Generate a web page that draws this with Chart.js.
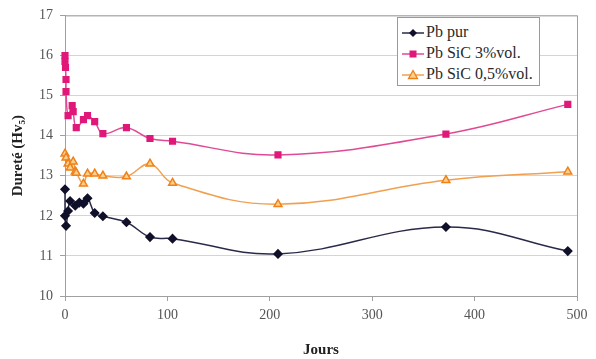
<!DOCTYPE html>
<html>
<head>
<meta charset="utf-8">
<script src="https://cdn.jsdelivr.net/npm/chart.js@4.4.1/dist/chart.umd.min.js"></script>
<style>
  html, body { margin: 0; padding: 0; background: #fff; }
  #wrap { position: relative; width: 596px; height: 359px; }
  #legend {
    position: absolute; left: 397px; top: 17px; width: 143px; height: 69px;
    box-sizing: border-box; border: 1px solid #9a9a9a; background: #fff;
    font-family: "Liberation Serif", serif; font-size: 16px; color: #2a2a2a;
    padding-top: 3px;
  }
  #legend div { height: 21px; line-height: 21px; white-space: nowrap; }
  #legend svg { vertical-align: middle; margin: 0 2px 0 4px; }
</style>
</head>
<body>
<div id="wrap">
  <canvas id="chart_durete" width="596" height="359"></canvas>
  <div id="legend"></div>
</div>
<script>
/* Dureté en fonction du temps (jours) */
const jours_pur = [0, 0, 1, 3, 5, 10, 14, 18, 22, 29, 37, 60, 83, 105, 208, 372, 491];
const dur_pur = [12.66, 12.0, 11.75, 12.12, 12.37, 12.25, 12.33, 12.3, 12.44, 12.07, 11.99, 11.84, 11.47, 11.43, 11.05, 11.72, 11.12];

const jours_sic3 = [0, 0, 0.5, 1, 1, 3, 7, 8, 11, 18, 22, 29, 37, 60, 83, 105, 208, 372, 491];
const dur_sic3 = [16.0, 15.85, 15.7, 15.4, 15.1, 14.5, 14.75, 14.6, 14.2, 14.4, 14.5, 14.35, 14.05, 14.2, 13.93, 13.86, 13.52, 14.04, 14.78];

const jours_sic05 = [0, 1, 3, 5, 8, 10, 11, 18, 22, 29, 37, 60, 83, 105, 208, 372, 491];
const dur_sic05 = [13.55, 13.45, 13.3, 13.2, 13.35, 13.1, 13.07, 12.8, 13.05, 13.05, 13.0, 12.98, 13.3, 12.82, 12.29, 12.89, 13.1];

const x_ticks = [0, 100, 200, 300, 400, 500];
const y_ticks = [10, 11, 12, 13, 14, 15, 16, 17];

const noms = ['Pb pur', 'Pb SiC 3%vol.', 'Pb SiC 0,5%vol.'];

function toPoints(xs, ys) {
    return xs.map((x, i) => ({x: x, y: ys[i]}));
}

// cadre autour de la zone de tracé
const cadre = {
    id: 'cadre',
    beforeDatasetsDraw(chart) {
        const a = chart.chartArea, c = chart.ctx;
        c.save();
        c.strokeStyle = '#a0a0a0';
        c.lineWidth = 1;
        c.strokeRect(a.left + 0.5, a.top + 0.5, a.right - a.left, a.bottom - a.top);
        c.restore();
    }
};

let ctx_durete = document.getElementById('chart_durete').getContext('2d');
let dureteChart = new Chart(ctx_durete, {
    type: 'line',
    data: {
        datasets: [{
            label: noms[0],
            data: toPoints(jours_pur, dur_pur),
            borderColor: '#2a2a48',
            backgroundColor: '#10102a',
            pointBorderColor: '#10102a',
            pointStyle: 'rectRot',
            pointRadius: 4,
            borderWidth: 1.5,
            tension: 0.4,
            clip: 8
        }, {
            label: noms[1],
            data: toPoints(jours_sic3, dur_sic3),
            borderColor: '#e04a95',
            backgroundColor: '#e0187a',
            pointBorderColor: '#e0187a',
            pointStyle: 'rect',
            pointRadius: 4,
            borderWidth: 1.5,
            tension: 0.4,
            clip: 8
        }, {
            label: noms[2],
            data: toPoints(jours_sic05, dur_sic05),
            borderColor: '#f0a050',
            backgroundColor: '#fbd08a',
            pointBorderColor: '#f08018',
            pointStyle: 'triangle',
            pointRadius: 4.5,
            pointBorderWidth: 1.5,
            borderWidth: 1.5,
            tension: 0.4,
            clip: 8
        }]
    },
    options: {
        responsive: false,
        animation: false,
        layout: { padding: { left: 0, right: 19, top: 12, bottom: 0 } },
        plugins: {
            legend: { display: false },
            tooltip: { enabled: false }
        },
        scales: {
            x: {
                type: 'linear',
                min: 0, max: 500,
                afterBuildTicks: s => { s.ticks = x_ticks.map(v => ({value: v})); },
                afterFit: s => { s.height = 63; },
                grid: { display: true, drawOnChartArea: false, tickLength: 5, color: '#a0a0a0' },
                border: { color: '#a0a0a0' },
                ticks: { padding: 6, color: '#555', font: { family: 'Liberation Serif', size: 14 } },
                title: {
                    display: true, text: 'Jours', color: '#222',
                    padding: { top: 0, bottom: 0 },
                    font: { family: 'Liberation Serif', size: 15, weight: 'bold' }
                }
            },
            y: {
                min: 10, max: 17,
                afterBuildTicks: s => { s.ticks = y_ticks.map(v => ({value: v})); },
                afterFit: s => { s.width = 65; },
                grid: { color: '#d4d4d4', tickLength: 5, tickColor: '#a0a0a0' },
                border: { color: '#a0a0a0' },
                ticks: { padding: 7, color: '#555', font: { family: 'Liberation Serif', size: 14 } },
                title: {
                    display: true, text: 'Dureté (Hv₅)', color: '#222',
                    padding: { top: 9, bottom: 0 },
                    font: { family: 'Liberation Serif', size: 15, weight: 'bold' }
                }
            }
        }
    },
    plugins: [cadre]
});

// légende (dans la zone de tracé, en haut à droite)
const symboles = [
    '<polygon points="11,2 15,6 11,10 7,6" fill="#10102a"/>',
    '<rect x="7.5" y="2.5" width="7" height="7" fill="#e0187a"/>',
    '<polygon points="11,1.5 15.5,9.5 6.5,9.5" fill="#fbd08a" stroke="#f08018" stroke-width="1.3"/>'
];
const traits = ['#2a2a48', '#e04a95', '#f0a050'];
let leg = document.getElementById('legend');
noms.forEach((n, i) => {
    let d = document.createElement('div');
    d.innerHTML = '<svg width="22" height="12"><line x1="0" y1="6" x2="22" y2="6" stroke="' + traits[i] +
        '" stroke-width="1.5"/>' + symboles[i] + '</svg>' + n;
    leg.appendChild(d);
});
</script>
</body>
</html>
